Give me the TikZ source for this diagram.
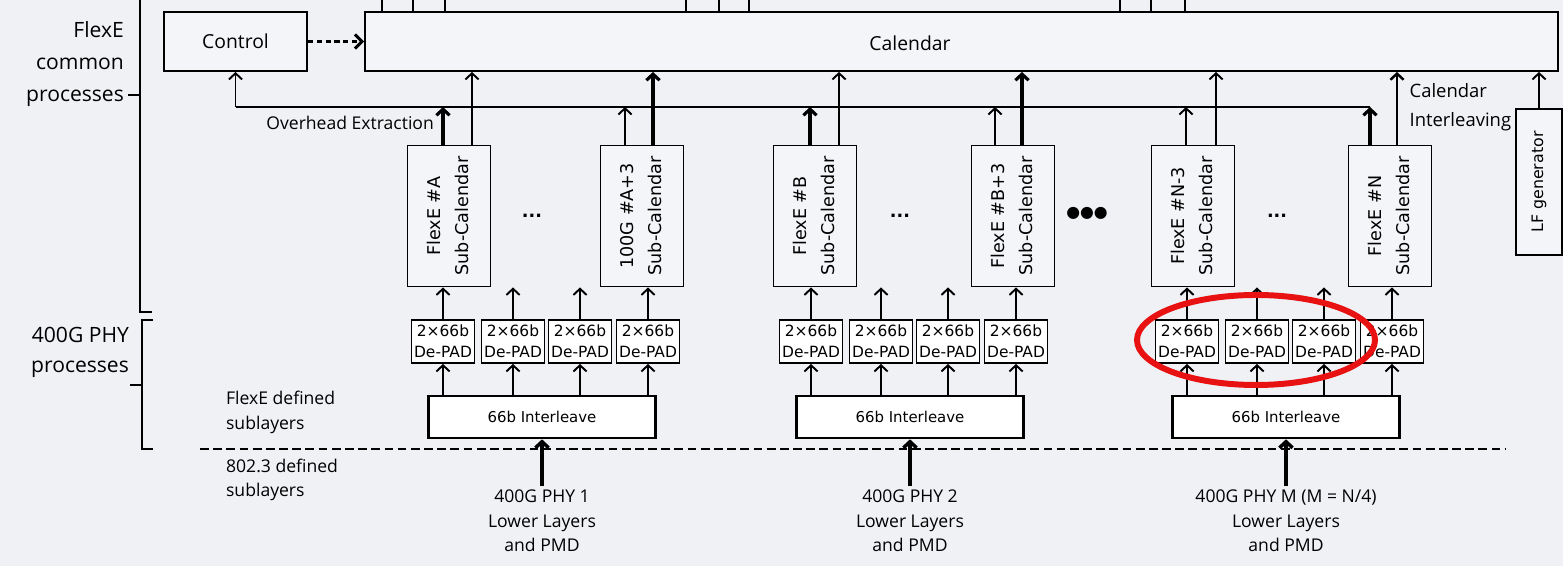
\documentclass[tikz,border=0pt]{standalone}
\usepackage{fontspec}
\setmainfont{Open Sans}
\newfontfamily\boxfont{DejaVu Sans}
\usepackage{graphicx}
\usepackage{tikz}
\usetikzlibrary{positioning,arrows.meta,shapes.geometric}
\definecolor{bgcol}{RGB}{239,241,245}
\definecolor{boxcol}{RGB}{244,245,248}
\definecolor{markred}{RGB}{232,18,18}
\tikzset{
	blk/.style={draw,line width=1.1pt,fill=boxcol,inner sep=0pt},
	subcal/.style={blk,minimum width=1.66cm,minimum height=2.82cm,font=\boxfont\fontsize{10}{16}\selectfont},
	depad/.style={draw,line width=1.1pt,fill=white,minimum width=1.26cm,minimum height=0.86cm,inner sep=0pt,align=center,font=\boxfont\fontsize{8.8}{12}\selectfont},
	ilv/.style={draw,line width=1.5pt,fill=white,minimum width=4.54cm,minimum height=0.84cm,font=\boxfont\fontsize{8.5}{10}\selectfont},
	upar/.style={line width=1.1pt,-{Straight Barb[length=3.5pt,width=7.5pt]}},
}
\begin{document}
\begin{tikzpicture}
		%Background
		\fill[bgcol] (0,0) rectangle (31.26,11.32);
		\useasboundingbox (0,0) rectangle (31.26,11.32);
		%Stubs above the Calendar
		\foreach \x in {7.64,8.26,8.9,13.72,14.38,14.98,22.4,23.02,23.7}
		\draw[line width=1.1pt] (\x,11.32)--(\x,11.08);
		%Calendar and Control
		\node[blk,minimum width=23.86cm,minimum height=1.18cm] (cal) at (19.23,10.49) {};
		\node[font=\fontsize{11}{13}\selectfont] (caltxt) at (18.2,10.46) {Calendar};
		\node[blk,minimum width=2.86cm,minimum height=1.18cm,font=\fontsize{11}{13}\selectfont] (ctrl) at (4.71,10.49) {Control};
		\draw[line width=1.7pt,dash pattern=on 3pt off 2pt,-{Straight Barb[length=4pt,width=8pt]}] (ctrl) -- (cal);
		%Overhead Extraction bus
		\coordinate (ohL) at (4.71,9.18);
		\coordinate (ohR) at (27.4,9.18);
		\draw[line width=1.1pt] (ohR) -- (ohL);
		\draw[upar] (ohL) -- (ctrl.south);
		\node[anchor=east,inner sep=1pt,font=\fontsize{10}{12}\selectfont] (ohtxt) at (8.72,8.86) {Overhead Extraction};
		\node[anchor=west,align=left,inner sep=1pt,font=\fontsize{10.5}{16.5}\selectfont] (cilv) at (28.15,9.17) {Calendar\\Interleaving};
		%Sub-Calendars
		\foreach \x/\lbl/\n/\a/\b/\wa/\wb in {8.98/FlexE \#A/1/-0.12/0.46/1.8/1.1,
			12.84/100G \#A+3/2/-0.34/0.22/1.1/1.8,
			16.3/FlexE \#B/3/-0.10/0.48/1.8/1.1,
			20.26/FlexE \#B+3/4/-0.36/0.18/1.1/1.8,
			23.86/FlexE \#N-3/5/-0.14/0.46/1.1/1.1,
			27.8/FlexE \#N/6/-0.40/0.14/1.8/1.4}{
			\node[subcal] (sc\n) at (\x,7) {\rotatebox{90}{\begin{tabular}{@{}c@{}}\lbl\\Sub-Calendar\end{tabular}}};
			\draw[upar,line width=\wa pt] ([xshift=\a cm]sc\n.north) -- ([xshift=\a cm]sc\n.north |- ohL);
			\draw[upar,line width=\wb pt] ([xshift=\b cm]sc\n.north) -- ([xshift=\b cm]sc\n.north |- cal.south);
		}
		\foreach \x [count=\i] in {10.64,18.0,25.54}
		\node[font=\boxfont\bfseries\fontsize{10}{12}\selectfont] (dots\i) at (\x,7.0) {...};
		\node[font=\boxfont\fontsize{9}{10}\selectfont] (bigdots) at (21.74,7.06) {●●●};
		%LF generator
		\node[blk,minimum width=0.92cm,minimum height=2.92cm,font=\boxfont\fontsize{9}{11}\selectfont] (lf) at (30.78,7.68) {\rotatebox{90}{LF generator}};
		\draw[upar] (lf.north) -- (lf.north |- cal.south);
		%400G PHY groups
		\foreach \x/\g/\lbl in {10.84/1/{400G PHY 1},18.2/2/{400G PHY 2},25.72/3/{400G PHY M (M = N/4)}}{
			\pgfmathtruncatemacro\s{2*\g-1}
			\node[ilv] (il\g) at (\x,2.98) {66b Interleave};
			\foreach \d/\o in {1/-1.98,2/-0.58,3/0.76,4/2.12}{
				\node[depad] (dp\g\d) at (\x+\o,4.49) {2×66b\\De-PAD};
				\draw[upar] (il\g.north -| dp\g\d) -- (dp\g\d.south);
				\draw[upar] (dp\g\d.north) -- (dp\g\d.north |- sc\s.south);
			}
			\node[align=center,anchor=north,inner sep=2pt,font=\fontsize{10}{14}\selectfont] (phy\g) at (\x,1.6) {\lbl\\Lower Layers\\and PMD};
			\draw[upar,line width=2pt] (phy\g.north) -- (il\g.south);
		}
		%Layer boundary
		\draw[line width=1pt,dash pattern=on 5pt off 2.5pt] (4.0,2.34) -- (30.1,2.34);
		%Brackets and side labels
		\draw[line width=1.1pt] (2.8,11.32) -- (2.8,5.08) -- (3.04,5.08);
		\draw[line width=1.1pt] (2.8,9.42) -- (2.56,9.42);
		\draw[line width=1.1pt] (3.06,4.92) -- (2.84,4.92) -- (2.84,2.34) -- (3.06,2.34);
		\draw[line width=1.1pt] (2.84,3.62) -- (2.6,3.62);
		\node[align=right,anchor=east,inner sep=1pt,font=\fontsize{12}{18}\selectfont] (fxlbl) at (2.52,10.04) {FlexE\\common\\processes};
		\node[align=right,anchor=east,inner sep=1pt,font=\fontsize{12}{17.5}\selectfont] (phylbl) at (2.62,4.27) {400G PHY\\processes};
		\node[align=left,anchor=west,inner sep=1pt,font=\fontsize{10}{14}\selectfont] (fxdef) at (4.48,3.07) {FlexE defined\\sublayers};
		\node[align=left,anchor=west,inner sep=1pt,font=\fontsize{10}{14}\selectfont] (ieee) at (4.48,1.72) {802.3 defined\\sublayers};
		%Red mark
		\node[draw=markred,ellipse,line width=3.4pt,minimum width=4.76cm,minimum height=1.8cm] (mark) at (25.12,4.52) {};
		\end{tikzpicture}
\end{document}
